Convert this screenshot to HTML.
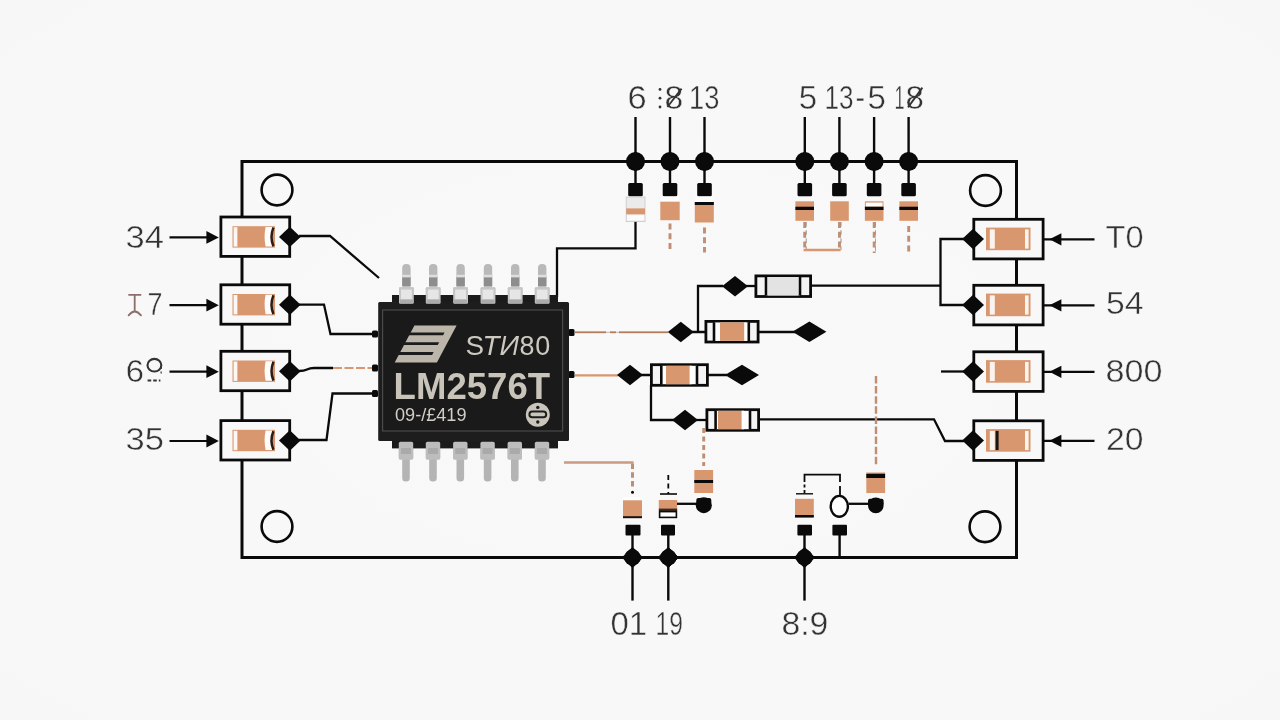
<!DOCTYPE html>
<html><head><meta charset="utf-8"><title>LM2576T circuit</title>
<style>
html,body{margin:0;padding:0;background:#f8f8f8;}
body{width:1280px;height:720px;overflow:hidden;font-family:"Liberation Sans",sans-serif;}
svg{display:block;will-change:transform;transform:translateZ(0)}
text{font-family:"Liberation Sans",sans-serif;}
.lb{stroke:#f8f8f8;stroke-width:.45px;}
</style></head><body>
<svg width="1280" height="720" viewBox="0 0 1280 720">
<defs><radialGradient id="bgg" cx="50%" cy="50%" r="75%"><stop offset="0" stop-color="#f9f9f9"/><stop offset="1" stop-color="#f7f7f7"/></radialGradient></defs>
<rect x="0" y="0" width="1280" height="720" fill="url(#bgg)"/>
<rect x="242" y="161.5" width="774.5" height="396" fill="none" stroke="#0a0a0a" stroke-width="3"/>
<circle cx="277" cy="190" r="15.4" fill="#f8f8f8" stroke="#0a0a0a" stroke-width="2.6"/>
<circle cx="985.5" cy="190.5" r="15.4" fill="#f8f8f8" stroke="#0a0a0a" stroke-width="2.6"/>
<circle cx="277" cy="526.5" r="15.4" fill="#f8f8f8" stroke="#0a0a0a" stroke-width="2.6"/>
<circle cx="985" cy="526.75" r="15.4" fill="#f8f8f8" stroke="#0a0a0a" stroke-width="2.6"/>
<rect x="220.9" y="217.0" width="68.8" height="39.4" fill="#f8f8f8" stroke="#0a0a0a" stroke-width="2.8"/>
<rect x="232.5" y="226.2" width="42.5" height="21.4" fill="#d9976f"/>
<rect x="233.6" y="227.2" width="3.8" height="19.4" fill="#fdf6f2"/>
<path d="M265.6 227.0 H272 V246.4 H265.6 Q263.6 236.6 265.6 227.0 Z" fill="#fffdfb"/>
<path d="M273.4 227.6 Q269.6 236.9 273.4 246.2" fill="none" stroke="#2a1c16" stroke-width="2.5"/>
<path d="M279 236.9 L289.8 226.7 L300.6 236.9 L289.8 247.1 Z" fill="#0a0a0a"/>
<path d="M169.5 237.4 H208" stroke="#0a0a0a" stroke-width="2.2" fill="none"/>
<path d="M206.4 231.0 L218.8 237.4 L206.4 243.79999999999998 Z" fill="#0a0a0a"/>
<rect x="220.9" y="284.79999999999995" width="68.8" height="39.4" fill="#f8f8f8" stroke="#0a0a0a" stroke-width="2.8"/>
<rect x="232.5" y="294.0" width="42.5" height="21.4" fill="#d9976f"/>
<rect x="233.6" y="295.0" width="3.8" height="19.4" fill="#fdf6f2"/>
<path d="M265.6 294.79999999999995 H272 V314.2 H265.6 Q263.6 304.4 265.6 294.79999999999995 Z" fill="#fffdfb"/>
<path d="M273.4 295.4 Q269.6 304.7 273.4 314.0" fill="none" stroke="#2a1c16" stroke-width="2.5"/>
<path d="M279 304.7 L289.8 294.5 L300.6 304.7 L289.8 314.9 Z" fill="#0a0a0a"/>
<path d="M169.5 305.2 H208" stroke="#0a0a0a" stroke-width="2.2" fill="none"/>
<path d="M206.4 298.79999999999995 L218.8 305.2 L206.4 311.59999999999997 Z" fill="#0a0a0a"/>
<rect x="220.9" y="351.29999999999995" width="68.8" height="39.4" fill="#f8f8f8" stroke="#0a0a0a" stroke-width="2.8"/>
<rect x="232.5" y="360.5" width="42.5" height="21.4" fill="#d9976f"/>
<rect x="233.6" y="361.5" width="3.8" height="19.4" fill="#fdf6f2"/>
<path d="M265.6 361.29999999999995 H272 V380.7 H265.6 Q263.6 370.9 265.6 361.29999999999995 Z" fill="#fffdfb"/>
<path d="M273.4 361.9 Q269.6 371.2 273.4 380.5" fill="none" stroke="#2a1c16" stroke-width="2.5"/>
<path d="M279 371.2 L289.8 361.0 L300.6 371.2 L289.8 381.4 Z" fill="#0a0a0a"/>
<path d="M169.5 371.7 H208" stroke="#0a0a0a" stroke-width="2.2" fill="none"/>
<path d="M206.4 365.29999999999995 L218.8 371.7 L206.4 378.09999999999997 Z" fill="#0a0a0a"/>
<rect x="220.9" y="420.59999999999997" width="68.8" height="39.4" fill="#f8f8f8" stroke="#0a0a0a" stroke-width="2.8"/>
<rect x="232.5" y="429.8" width="42.5" height="21.4" fill="#d9976f"/>
<rect x="233.6" y="430.8" width="3.8" height="19.4" fill="#fdf6f2"/>
<path d="M265.6 430.59999999999997 H272 V450.0 H265.6 Q263.6 440.2 265.6 430.59999999999997 Z" fill="#fffdfb"/>
<path d="M273.4 431.2 Q269.6 440.5 273.4 449.8" fill="none" stroke="#2a1c16" stroke-width="2.5"/>
<path d="M279 440.5 L289.8 430.3 L300.6 440.5 L289.8 450.7 Z" fill="#0a0a0a"/>
<path d="M169.5 441.0 H208" stroke="#0a0a0a" stroke-width="2.2" fill="none"/>
<path d="M206.4 434.59999999999997 L218.8 441.0 L206.4 447.4 Z" fill="#0a0a0a"/>
<rect x="973.8" y="219.3" width="69.3" height="39.6" fill="#f8f8f8" stroke="#0a0a0a" stroke-width="2.8"/>
<rect x="986" y="227.6" width="44.5" height="22.6" fill="#d9976f"/>
<rect x="989.8" y="229.4" width="5" height="19.2" fill="#fbf3ee"/>
<rect x="1025" y="229.4" width="3.6" height="19.2" fill="#fbf3ee"/>
<path d="M962.2 239 L973.1 228.7 L984 239 L973.1 249.3 Z" fill="#0a0a0a"/>
<path d="M1044 239.3 H1052 M1060 239.3 H1094.5" stroke="#0a0a0a" stroke-width="2.2" fill="none"/>
<path d="M1061.4 233.2 L1049.4 239.3 L1061.4 245.4 Z" fill="#0a0a0a"/>
<rect x="973.8" y="285.3" width="69.3" height="39.6" fill="#f8f8f8" stroke="#0a0a0a" stroke-width="2.8"/>
<rect x="986" y="293.6" width="44.5" height="22.6" fill="#d9976f"/>
<rect x="989.8" y="295.4" width="5" height="19.2" fill="#fbf3ee"/>
<rect x="1025" y="295.4" width="3.6" height="19.2" fill="#fbf3ee"/>
<path d="M962.2 305 L973.1 294.7 L984 305 L973.1 315.3 Z" fill="#0a0a0a"/>
<path d="M1044 305.3 H1052 M1060 305.3 H1094.5" stroke="#0a0a0a" stroke-width="2.2" fill="none"/>
<path d="M1061.4 299.2 L1049.4 305.3 L1061.4 311.4 Z" fill="#0a0a0a"/>
<rect x="973.8" y="351.8" width="69.3" height="39.6" fill="#f8f8f8" stroke="#0a0a0a" stroke-width="2.8"/>
<rect x="986" y="360.1" width="44.5" height="22.6" fill="#d9976f"/>
<rect x="989.8" y="361.9" width="5" height="19.2" fill="#fbf3ee"/>
<rect x="1025" y="361.9" width="3.6" height="19.2" fill="#fbf3ee"/>
<path d="M962.2 371.5 L973.1 361.2 L984 371.5 L973.1 381.8 Z" fill="#0a0a0a"/>
<path d="M1044 371.8 H1052 M1060 371.8 H1094.5" stroke="#0a0a0a" stroke-width="2.2" fill="none"/>
<path d="M1061.4 365.7 L1049.4 371.8 L1061.4 377.9 Z" fill="#0a0a0a"/>
<rect x="973.8" y="420.8" width="69.3" height="39.6" fill="#f8f8f8" stroke="#0a0a0a" stroke-width="2.8"/>
<rect x="986" y="429.1" width="44.5" height="22.6" fill="#d9976f"/>
<rect x="989.8" y="430.9" width="5" height="19.2" fill="#fbf3ee"/>
<rect x="1025" y="430.9" width="3.6" height="19.2" fill="#fbf3ee"/>
<rect x="995.6" y="430.9" width="3" height="19.2" fill="#1a1410"/>
<path d="M962.2 440.5 L973.1 430.2 L984 440.5 L973.1 450.8 Z" fill="#0a0a0a"/>
<path d="M1044 440.8 H1052 M1060 440.8 H1094.5" stroke="#0a0a0a" stroke-width="2.2" fill="none"/>
<path d="M1061.4 434.7 L1049.4 440.8 L1061.4 446.9 Z" fill="#0a0a0a"/>
<path d="M299 236 H330 L379 278" fill="none" stroke="#0a0a0a" stroke-width="2.3" stroke-linejoin="miter"/>
<path d="M299 304.6 H324 L330.5 334 H376" fill="none" stroke="#0a0a0a" stroke-width="2.3" stroke-linejoin="miter"/>
<path d="M299 371 Q304 371 307 369.5 Q310 368 314 368 H333" fill="none" stroke="#0a0a0a" stroke-width="2.3" stroke-linejoin="miter"/>
<path d="M333 368 H372" fill="none" stroke="#d9976f" stroke-width="2" stroke-dasharray="9 2.5"/>
<path d="M299 440 H326.5 L332.5 393.5 H376" fill="none" stroke="#0a0a0a" stroke-width="2.3" stroke-linejoin="miter"/>
<path d="M635.5 221 V248.3 H557 V297" fill="none" stroke="#0a0a0a" stroke-width="2.3" stroke-linejoin="miter"/>
<path d="M811 285.6 H940.5 M964 239 H940.5 V305 H964" fill="none" stroke="#0a0a0a" stroke-width="2.3" stroke-linejoin="miter"/>
<path d="M941 371.5 H964" fill="none" stroke="#0a0a0a" stroke-width="2.3" stroke-linejoin="miter"/>
<path d="M759 419.3 H934 L945 441 H964" fill="none" stroke="#0a0a0a" stroke-width="2.3" stroke-linejoin="miter"/>
<rect x="372.0" y="330.5" width="6" height="7" rx="1.5" fill="#0a0a0a"/>
<rect x="372.0" y="364.5" width="6" height="7" rx="1.5" fill="#0a0a0a"/>
<rect x="372.0" y="390.0" width="6" height="7" rx="1.5" fill="#0a0a0a"/>
<rect x="568.5" y="329.0" width="6" height="7" rx="1.5" fill="#0a0a0a"/>
<rect x="568.5" y="371.0" width="6" height="7" rx="1.5" fill="#0a0a0a"/>
<path d="M575 332.3 H606 M610 332.3 H616 M619 332.3 H668" fill="none" stroke="#d9976f" stroke-width="2"/>
<path d="M575 332.3 H668" fill="none" stroke="#5a4030" stroke-width="0.7" opacity=".5"/>
<path d="M575 375.3 H618" fill="none" stroke="#d9976f" stroke-width="2.2"/>
<path d="M564 462.5 H633.6" fill="none" stroke="#c99a80" stroke-width="2.6"/>
<path d="M723 286 H698 V332" fill="none" stroke="#0a0a0a" stroke-width="2.3" stroke-linejoin="miter"/>
<path d="M722 286.2 L735 275.9 L748 286.2 L735 296.5 Z" fill="#0a0a0a"/>
<path d="M746 286 H756" fill="none" stroke="#0a0a0a" stroke-width="2.3" stroke-linejoin="miter"/>
<rect x="755.9" y="275.9" width="54.7" height="20.6" fill="#f4f4f4" stroke="#0a0a0a" stroke-width="2.8"/>
<rect x="766" y="277.0" width="34" height="18.4" fill="#fdfdfd"/>
<rect x="768" y="277.0" width="30" height="18.4" fill="#e3e3e3"/>
<path d="M766 276.8 V295.59999999999997 M800 276.8 V295.59999999999997" stroke="#0a0a0a" stroke-width="2.6" fill="none"/>
<path d="M692 332 H706 M759 332 H795" fill="none" stroke="#0a0a0a" stroke-width="2.3" stroke-linejoin="miter"/>
<path d="M667.8 332 L680.8 321.7 L693.8 332 L680.8 342.3 Z" fill="#0a0a0a"/>
<rect x="705.9" y="321.4" width="52.2" height="20.6" fill="#f4f4f4" stroke="#0a0a0a" stroke-width="2.8"/>
<rect x="714" y="322.5" width="34.799999999999955" height="18.4" fill="#fdfdfd"/>
<rect x="720" y="322.5" width="26" height="18.4" fill="#d9976f"/>
<path d="M714 322.3 V341.09999999999997 M748.8 322.3 V341.09999999999997" stroke="#0a0a0a" stroke-width="2.6" fill="none"/>
<rect x="744.2" y="322.5" width="2.4" height="18.4" fill="#fff"/>
<path d="M792.4 331.8 L809.4 321.5 L826.4 331.8 L809.4 342.1 Z" fill="#0a0a0a"/>
<path d="M641 375 H652 M708 375 H727" fill="none" stroke="#0a0a0a" stroke-width="2.3" stroke-linejoin="miter"/>
<path d="M617 375 L630 364.7 L643 375 L630 385.3 Z" fill="#0a0a0a"/>
<rect x="651.4" y="364.7" width="55.99999999999996" height="20.6" fill="#f4f4f4" stroke="#0a0a0a" stroke-width="2.8"/>
<rect x="661.3" y="365.8" width="35.700000000000045" height="18.4" fill="#fdfdfd"/>
<rect x="666" y="365.8" width="25" height="18.4" fill="#d9976f"/>
<path d="M661.3 365.6 V384.4 M697 365.6 V384.4" stroke="#0a0a0a" stroke-width="2.6" fill="none"/>
<rect x="689.6" y="365.8" width="2.6" height="18.4" fill="#fff"/>
<path d="M725 375 L742 364.7 L759 375 L742 385.3 Z" fill="#0a0a0a"/>
<path d="M651 385 V420 H674" fill="none" stroke="#0a0a0a" stroke-width="2.3" stroke-linejoin="miter"/>
<path d="M696 420 H707" fill="none" stroke="#0a0a0a" stroke-width="2.3" stroke-linejoin="miter"/>
<path d="M672 420 L685 409.7 L698 420 L685 430.3 Z" fill="#0a0a0a"/>
<rect x="706.9" y="409.7" width="51.7" height="20.6" fill="#f4f4f4" stroke="#0a0a0a" stroke-width="2.8"/>
<rect x="715.6" y="410.8" width="34.39999999999998" height="18.4" fill="#fdfdfd"/>
<rect x="718" y="410.8" width="25.799999999999955" height="18.4" fill="#d9976f"/>
<path d="M715.6 410.6 V429.4 M750 410.6 V429.4" stroke="#0a0a0a" stroke-width="2.6" fill="none"/>
<rect x="741.6" y="410.8" width="2.6" height="18.4" fill="#fff"/>
<path d="M635.5 117 V184" stroke="#0a0a0a" stroke-width="2.4" fill="none"/>
<circle cx="635.5" cy="161.5" r="9.5" fill="#0a0a0a"/>
<path d="M625.3 161.5 L635.5 151.3 L645.7 161.5 L635.5 171.7 Z" fill="#0a0a0a"/>
<rect x="628.2" y="183" width="14.6" height="13.2" rx="1.5" fill="#0a0a0a"/>
<path d="M670 117 V184" stroke="#0a0a0a" stroke-width="2.4" fill="none"/>
<circle cx="670" cy="161.5" r="9.5" fill="#0a0a0a"/>
<path d="M659.8 161.5 L670 151.3 L680.2 161.5 L670 171.7 Z" fill="#0a0a0a"/>
<rect x="662.7" y="183" width="14.6" height="13.2" rx="1.5" fill="#0a0a0a"/>
<path d="M704.5 117 V184" stroke="#0a0a0a" stroke-width="2.4" fill="none"/>
<circle cx="704.5" cy="161.5" r="9.5" fill="#0a0a0a"/>
<path d="M694.3 161.5 L704.5 151.3 L714.7 161.5 L704.5 171.7 Z" fill="#0a0a0a"/>
<rect x="697.2" y="183" width="14.6" height="13.2" rx="1.5" fill="#0a0a0a"/>
<path d="M804.8 117 V184" stroke="#0a0a0a" stroke-width="2.4" fill="none"/>
<circle cx="804.8" cy="161.5" r="9.5" fill="#0a0a0a"/>
<path d="M794.5999999999999 161.5 L804.8 151.3 L815.0 161.5 L804.8 171.7 Z" fill="#0a0a0a"/>
<rect x="797.5" y="183" width="14.6" height="13.2" rx="1.5" fill="#0a0a0a"/>
<path d="M839.4 117 V184" stroke="#0a0a0a" stroke-width="2.4" fill="none"/>
<circle cx="839.4" cy="161.5" r="9.5" fill="#0a0a0a"/>
<path d="M829.1999999999999 161.5 L839.4 151.3 L849.6 161.5 L839.4 171.7 Z" fill="#0a0a0a"/>
<rect x="832.1" y="183" width="14.6" height="13.2" rx="1.5" fill="#0a0a0a"/>
<path d="M874.1 117 V184" stroke="#0a0a0a" stroke-width="2.4" fill="none"/>
<circle cx="874.1" cy="161.5" r="9.5" fill="#0a0a0a"/>
<path d="M863.9 161.5 L874.1 151.3 L884.3000000000001 161.5 L874.1 171.7 Z" fill="#0a0a0a"/>
<rect x="866.8000000000001" y="183" width="14.6" height="13.2" rx="1.5" fill="#0a0a0a"/>
<path d="M908.6 117 V184" stroke="#0a0a0a" stroke-width="2.4" fill="none"/>
<circle cx="908.6" cy="161.5" r="9.5" fill="#0a0a0a"/>
<path d="M898.4 161.5 L908.6 151.3 L918.8000000000001 161.5 L908.6 171.7 Z" fill="#0a0a0a"/>
<rect x="901.3000000000001" y="183" width="14.6" height="13.2" rx="1.5" fill="#0a0a0a"/>
<rect x="626.2" y="197" width="18.8" height="24.6" fill="#ebebeb" stroke="#c9c9c9" stroke-width="0.8"/>
<rect x="626.2" y="208.4" width="18.8" height="5.900000000000006" fill="#d9976f"/>
<rect x="627" y="215.2" width="17.2" height="5.2" fill="#fcfcfc"/>
<rect x="661" y="196.6" width="18" height="5" fill="#fdfdfd"/>
<rect x="660.3" y="201.7" width="19.4" height="18.5" fill="#d9976f"/>
<path d="M670 223.5 V249" stroke="#bf8e73" stroke-width="2.9" stroke-dasharray="6 3.8" fill="none"/>
<rect x="695.5" y="196.6" width="18" height="5.4" fill="#fdfdfd"/>
<rect x="694.8" y="202" width="19.0" height="20.5" fill="#d9976f"/>
<rect x="694.8" y="202" width="19.0" height="3" fill="#0a0a0a"/>
<path d="M704.5 227.5 V252.5" stroke="#bf8e73" stroke-width="2.9" stroke-dasharray="6 3.8" fill="none"/>
<rect x="795.4000000000001" y="201.3" width="18.6" height="19.5" fill="#d9976f"/>
<rect x="795.4000000000001" y="206.7" width="18.6" height="3.3000000000000114" fill="#0a0a0a"/>
<path d="M804.7 222 V250" stroke="#bf8e73" stroke-width="2.9" stroke-dasharray="6 3.8" fill="none"/>
<path d="M806.2 222 V250" stroke="#9a8f88" stroke-width="1" stroke-dasharray="4.6 3.6" fill="none"/>
<rect x="830.2" y="201.3" width="18.6" height="19.5" fill="#d9976f"/>
<path d="M839.5 222 V250" stroke="#bf8e73" stroke-width="2.9" stroke-dasharray="6 3.8" fill="none"/>
<path d="M841 222 V250" stroke="#9a8f88" stroke-width="1" stroke-dasharray="4.6 3.6" fill="none"/>
<path d="M803.6 250 H840.6" stroke="#d9976f" stroke-width="2.4" fill="none"/>
<rect x="864.9000000000001" y="201.3" width="18.6" height="19.5" fill="#d9976f"/>
<rect x="865.9000000000001" y="202.6" width="16.6" height="4.099999999999994" fill="#fdfdfd"/>
<rect x="864.9000000000001" y="206.7" width="18.6" height="3.3000000000000114" fill="#0a0a0a"/>
<path d="M874.2 222 V253" stroke="#bf8e73" stroke-width="2.9" stroke-dasharray="6 3.8" fill="none"/>
<path d="M875.5 222 V253" stroke="#9a8f88" stroke-width="0.8" stroke-dasharray="4.6 3.6" fill="none"/>
<rect x="899.4000000000001" y="201.3" width="18.6" height="19.5" fill="#d9976f"/>
<rect x="899.4000000000001" y="206.7" width="18.6" height="3.3000000000000114" fill="#0a0a0a"/>
<path d="M908.7 226 V253" stroke="#bf8e73" stroke-width="2.9" stroke-dasharray="6 3.8" fill="none"/>
<path d="M632.5 534 V600.6" stroke="#0a0a0a" stroke-width="2.4" fill="none"/>
<circle cx="632.5" cy="557.5" r="8.256" fill="#0a0a0a"/>
<path d="M622.324 557.5 L632.5 547.324 L642.676 557.5 L632.5 567.676 Z" fill="#0a0a0a" stroke="#0a0a0a" stroke-width="1" stroke-linejoin="round"/>
<path d="M668.3 534 V600.6" stroke="#0a0a0a" stroke-width="2.4" fill="none"/>
<circle cx="668.3" cy="557.5" r="8.256" fill="#0a0a0a"/>
<path d="M658.1239999999999 557.5 L668.3 547.324 L678.476 557.5 L668.3 567.676 Z" fill="#0a0a0a" stroke="#0a0a0a" stroke-width="1" stroke-linejoin="round"/>
<path d="M804.5 534 V600.6" stroke="#0a0a0a" stroke-width="2.4" fill="none"/>
<circle cx="804.5" cy="557.5" r="8.256" fill="#0a0a0a"/>
<path d="M794.324 557.5 L804.5 547.324 L814.676 557.5 L804.5 567.676 Z" fill="#0a0a0a" stroke="#0a0a0a" stroke-width="1" stroke-linejoin="round"/>
<path d="M839.6 534 V557.5" stroke="#0a0a0a" stroke-width="2.4" fill="none"/>
<rect x="625.5" y="524.8" width="15" height="10.6" rx="1" fill="#0a0a0a"/>
<rect x="661.0" y="524.8" width="14" height="10.6" rx="1" fill="#0a0a0a"/>
<rect x="797.4000000000001" y="524.8" width="14.6" height="10.6" rx="1" fill="#0a0a0a"/>
<rect x="832.4000000000001" y="524.8" width="14.6" height="10.6" rx="1" fill="#0a0a0a"/>
<rect x="623.6" y="497" width="18" height="3" fill="#fdfdfd"/>
<rect x="623.0" y="500.3" width="19.0" height="16.499999999999943" fill="#d9976f"/>
<rect x="623.0" y="516.2" width="19.0" height="2.0" fill="#1a100c"/>
<path d="M632.5 463.5 V488" stroke="#bf8e73" stroke-width="3" stroke-dasharray="5.4 3.4" fill="none"/>
<circle cx="632.5" cy="492.3" r="1.5" fill="#0a0a0a"/>
<path d="M668.3 475 V494" stroke="#0a0a0a" stroke-width="1.8" stroke-dasharray="5 3.5" fill="none"/>
<path d="M660 494 H677" stroke="#0a0a0a" stroke-width="1.6" fill="none"/>
<rect x="658.8" y="500" width="18.4" height="9" fill="#d9976f"/>
<rect x="658.8" y="508.6" width="18.4" height="2.3999999999999773" fill="#3a2a20"/>
<rect x="659.6" y="511.6" width="16.8" height="5.8" fill="#fff" stroke="#0a0a0a" stroke-width="1.6"/>
<path d="M677 503.8 H697" fill="none" stroke="#0a0a0a" stroke-width="2.3" stroke-linejoin="miter"/>
<circle cx="703.8" cy="505.2" r="8" fill="#0a0a0a"/>
<rect x="696.3" y="498" width="15" height="6" rx="2" fill="#0a0a0a"/>
<rect x="694.3000000000001" y="470" width="18.8" height="23" fill="#d9976f"/>
<rect x="694.3000000000001" y="480" width="18.8" height="3" fill="#0a0a0a"/>
<path d="M703.7 428 V466" stroke="#bf8e73" stroke-width="2.9" stroke-dasharray="5 3.5" fill="none"/>
<rect x="795.0" y="498.8" width="18.8" height="18.69999999999999" fill="#d9976f"/>
<rect x="795.0" y="515" width="18.8" height="2.5" fill="#0a0a0a"/>
<path d="M796 493.8 H813" stroke="#0a0a0a" stroke-width="1.4" fill="none"/>
<path d="M804.5 493 V484" stroke="#0a0a0a" stroke-width="1.8" stroke-dasharray="3 2.5" fill="none"/>
<path d="M804.5 482 V474.6 H840 V482 M840 486 V496" stroke="#0a0a0a" stroke-width="1.8" fill="none"/>
<ellipse cx="839.3" cy="506.3" rx="8.6" ry="10.4" fill="#fdfdfd" stroke="#0a0a0a" stroke-width="2.4"/>
<path d="M848.6 503.8 H869" fill="none" stroke="#0a0a0a" stroke-width="2.3" stroke-linejoin="miter"/>
<circle cx="875.8" cy="505.4" r="7.8" fill="#0a0a0a"/>
<rect x="868" y="498.8" width="15.6" height="6.6" rx="2" fill="#0a0a0a"/>
<rect x="866.3000000000001" y="472.5" width="18.8" height="20.5" fill="#d9976f"/>
<rect x="866.3000000000001" y="473.8" width="18.8" height="4.199999999999989" fill="#0a0a0a"/>
<path d="M876 376 V466" stroke="#bf8e73" stroke-width="2.4" stroke-dasharray="7.5 2.6" fill="none"/>
<rect x="402.2" y="264" width="8.4" height="26" rx="4" fill="#b9b9b9"/>
<rect x="402.2" y="276.5" width="8.4" height="9.5" fill="#8d8d8d"/>
<rect x="402.2" y="274.8" width="8.4" height="2.6" fill="#dedede"/>
<rect x="399.0" y="287.3" width="14.8" height="16.6" rx="1.2" fill="#c4c4c4"/>
<rect x="401.4" y="291" width="10" height="9" fill="#dcdcdc"/>
<rect x="429.0" y="264" width="8.4" height="26" rx="4" fill="#b9b9b9"/>
<rect x="429.0" y="276.5" width="8.4" height="9.5" fill="#8d8d8d"/>
<rect x="429.0" y="274.8" width="8.4" height="2.6" fill="#dedede"/>
<rect x="425.8" y="287.3" width="14.8" height="16.6" rx="1.2" fill="#c4c4c4"/>
<rect x="428.2" y="291" width="10" height="9" fill="#dcdcdc"/>
<rect x="456.40000000000003" y="264" width="8.4" height="26" rx="4" fill="#b9b9b9"/>
<rect x="456.40000000000003" y="276.5" width="8.4" height="9.5" fill="#8d8d8d"/>
<rect x="456.40000000000003" y="274.8" width="8.4" height="2.6" fill="#dedede"/>
<rect x="453.20000000000005" y="287.3" width="14.8" height="16.6" rx="1.2" fill="#c4c4c4"/>
<rect x="455.6" y="291" width="10" height="9" fill="#dcdcdc"/>
<rect x="483.8" y="264" width="8.4" height="26" rx="4" fill="#b9b9b9"/>
<rect x="483.8" y="276.5" width="8.4" height="9.5" fill="#8d8d8d"/>
<rect x="483.8" y="274.8" width="8.4" height="2.6" fill="#dedede"/>
<rect x="480.6" y="287.3" width="14.8" height="16.6" rx="1.2" fill="#c4c4c4"/>
<rect x="483" y="291" width="10" height="9" fill="#dcdcdc"/>
<rect x="511.00000000000006" y="264" width="8.4" height="26" rx="4" fill="#b9b9b9"/>
<rect x="511.00000000000006" y="276.5" width="8.4" height="9.5" fill="#8d8d8d"/>
<rect x="511.00000000000006" y="274.8" width="8.4" height="2.6" fill="#dedede"/>
<rect x="507.80000000000007" y="287.3" width="14.8" height="16.6" rx="1.2" fill="#c4c4c4"/>
<rect x="510.20000000000005" y="291" width="10" height="9" fill="#dcdcdc"/>
<rect x="538.0" y="264" width="8.4" height="26" rx="4" fill="#b9b9b9"/>
<rect x="538.0" y="276.5" width="8.4" height="9.5" fill="#8d8d8d"/>
<rect x="538.0" y="274.8" width="8.4" height="2.6" fill="#dedede"/>
<rect x="534.8000000000001" y="287.3" width="14.8" height="16.6" rx="1.2" fill="#c4c4c4"/>
<rect x="537.2" y="291" width="10" height="9" fill="#dcdcdc"/>
<rect x="402.2" y="455" width="7.6" height="26.6" rx="3.6" fill="#b4b4b4"/>
<rect x="398.8" y="440" width="14.4" height="19.6" rx="1.6" fill="#bdbdbd"/>
<rect x="401" y="447" width="10" height="6" fill="#aaaaaa"/>
<rect x="429.2" y="455" width="7.6" height="26.6" rx="3.6" fill="#b4b4b4"/>
<rect x="425.8" y="440" width="14.4" height="19.6" rx="1.6" fill="#bdbdbd"/>
<rect x="428" y="447" width="10" height="6" fill="#aaaaaa"/>
<rect x="456.5" y="455" width="7.6" height="26.6" rx="3.6" fill="#b4b4b4"/>
<rect x="453.1" y="440" width="14.4" height="19.6" rx="1.6" fill="#bdbdbd"/>
<rect x="455.3" y="447" width="10" height="6" fill="#aaaaaa"/>
<rect x="483.8" y="455" width="7.6" height="26.6" rx="3.6" fill="#b4b4b4"/>
<rect x="480.40000000000003" y="440" width="14.4" height="19.6" rx="1.6" fill="#bdbdbd"/>
<rect x="482.6" y="447" width="10" height="6" fill="#aaaaaa"/>
<rect x="510.99999999999994" y="455" width="7.6" height="26.6" rx="3.6" fill="#b4b4b4"/>
<rect x="507.59999999999997" y="440" width="14.4" height="19.6" rx="1.6" fill="#bdbdbd"/>
<rect x="509.79999999999995" y="447" width="10" height="6" fill="#aaaaaa"/>
<rect x="538.2" y="455" width="7.6" height="26.6" rx="3.6" fill="#b4b4b4"/>
<rect x="534.8" y="440" width="14.4" height="19.6" rx="1.6" fill="#bdbdbd"/>
<rect x="537" y="447" width="10" height="6" fill="#aaaaaa"/>
<rect x="392" y="295" width="166" height="12" fill="#1b1b1b"/>
<rect x="392" y="436" width="166" height="12.4" fill="#1b1b1b"/>
<rect x="378.2" y="302" width="190.8" height="139" rx="1.5" fill="#1d1d1d"/>
<rect x="382.6" y="310" width="180" height="121" fill="#1a1a1a" stroke="#4a4a4a" stroke-width="1.2"/>
<rect x="399.0" y="287.3" width="14.8" height="16.4" rx="1.2" fill="#c6c6c6"/>
<rect x="401.0" y="289.6" width="10.8" height="9.6" fill="#e6e6e6"/>
<rect x="399.79999999999995" y="299.6" width="13.2" height="3.4" fill="#ababab"/>
<rect x="425.8" y="287.3" width="14.8" height="16.4" rx="1.2" fill="#c6c6c6"/>
<rect x="427.8" y="289.6" width="10.8" height="9.6" fill="#e6e6e6"/>
<rect x="426.59999999999997" y="299.6" width="13.2" height="3.4" fill="#ababab"/>
<rect x="453.20000000000005" y="287.3" width="14.8" height="16.4" rx="1.2" fill="#c6c6c6"/>
<rect x="455.20000000000005" y="289.6" width="10.8" height="9.6" fill="#e6e6e6"/>
<rect x="454.0" y="299.6" width="13.2" height="3.4" fill="#ababab"/>
<rect x="480.6" y="287.3" width="14.8" height="16.4" rx="1.2" fill="#c6c6c6"/>
<rect x="482.6" y="289.6" width="10.8" height="9.6" fill="#e6e6e6"/>
<rect x="481.4" y="299.6" width="13.2" height="3.4" fill="#ababab"/>
<rect x="507.80000000000007" y="287.3" width="14.8" height="16.4" rx="1.2" fill="#c6c6c6"/>
<rect x="509.80000000000007" y="289.6" width="10.8" height="9.6" fill="#e6e6e6"/>
<rect x="508.6" y="299.6" width="13.2" height="3.4" fill="#ababab"/>
<rect x="534.8000000000001" y="287.3" width="14.8" height="16.4" rx="1.2" fill="#c6c6c6"/>
<rect x="536.8000000000001" y="289.6" width="10.8" height="9.6" fill="#e6e6e6"/>
<rect x="535.6" y="299.6" width="13.2" height="3.4" fill="#ababab"/>
<rect x="398.8" y="441.8" width="14.4" height="17.8" rx="1.6" fill="#bdbdbd"/>
<rect x="401" y="448" width="10" height="6" fill="#aaaaaa"/>
<rect x="425.8" y="441.8" width="14.4" height="17.8" rx="1.6" fill="#bdbdbd"/>
<rect x="428" y="448" width="10" height="6" fill="#aaaaaa"/>
<rect x="453.1" y="441.8" width="14.4" height="17.8" rx="1.6" fill="#bdbdbd"/>
<rect x="455.3" y="448" width="10" height="6" fill="#aaaaaa"/>
<rect x="480.40000000000003" y="441.8" width="14.4" height="17.8" rx="1.6" fill="#bdbdbd"/>
<rect x="482.6" y="448" width="10" height="6" fill="#aaaaaa"/>
<rect x="507.59999999999997" y="441.8" width="14.4" height="17.8" rx="1.6" fill="#bdbdbd"/>
<rect x="509.79999999999995" y="448" width="10" height="6" fill="#aaaaaa"/>
<rect x="534.8" y="441.8" width="14.4" height="17.8" rx="1.6" fill="#bdbdbd"/>
<rect x="537" y="448" width="10" height="6" fill="#aaaaaa"/>
<path d="M414.4 325.6 H456.6 L436.9 362.5 H394.7 Z" fill="#bcb6aa"/>
<path d="M406.662 332.6 H444.6 L443.1 335.3 H404.662 Z" fill="#1c1c1c"/>
<path d="M401.4822 342.3 H439.2 L437.7 345.1 H399.4822 Z" fill="#1c1c1c"/>
<path d="M396.24899999999997 352.1 H433.6 L432.1 354.9 H394.24899999999997 Z" fill="#1c1c1c"/>
<text y="355" font-size="27.8" fill="#cdc9c0"><tspan x="465.4">S</tspan><tspan x="482.6" font-style="italic">T</tspan><tspan x="499.4" font-style="italic" textLength="19.5" lengthAdjust="spacingAndGlyphs">&#1048;</tspan><tspan x="519.4" textLength="15" lengthAdjust="spacingAndGlyphs">8</tspan><tspan x="535.2" textLength="15" lengthAdjust="spacingAndGlyphs">0</tspan></text>
<text x="393.6" y="399.4" font-size="37" font-weight="700" fill="#c9c4ba" textLength="156.5" lengthAdjust="spacingAndGlyphs">LM2576T</text>
<text x="395" y="421.4" font-size="18.6" fill="#d2cec6" textLength="71.5" lengthAdjust="spacingAndGlyphs">09-/&#163;419</text>
<circle cx="537.8" cy="414.7" r="12" fill="#cbc6bc"/>
<rect x="529.4" y="411.6" width="16.8" height="5.6" rx="2.8" fill="#cbc6bc" stroke="#1d1d1d" stroke-width="2"/>
<circle cx="537.8" cy="407.4" r="1.7" fill="#1d1d1d"/><circle cx="537.8" cy="422" r="1.7" fill="#1d1d1d"/>
<text x="125.6" y="247.6" font-size="31.6" fill="#333333" textLength="38.400000000000006" lengthAdjust="spacingAndGlyphs" class="lb" >34</text>
<text x="147.5" y="315.2" font-size="31.6" fill="#333333" textLength="15.0" lengthAdjust="spacingAndGlyphs" class="lb" >7</text>
<path d="M129 294.8 H140.6 M134.7 294.8 V311 M128.6 315.4 Q134.7 307.6 141 315.4" fill="none" stroke="#8c6f6b" stroke-width="1.8" stroke-linecap="round"/>
<text x="125.8" y="382" font-size="31.6" fill="#333333" textLength="18.200000000000003" lengthAdjust="spacingAndGlyphs" class="lb" >6</text>
<ellipse cx="154.4" cy="365.2" rx="6.9" ry="6.3" fill="none" stroke="#333333" stroke-width="2.1"/>
<path d="M161.2 367 V374" stroke="#333333" stroke-width="1.6" stroke-dasharray="2 2.4" fill="none" opacity=".75"/>
<path d="M147.6 380.6 H160.4" stroke="#333333" stroke-width="2" stroke-dasharray="3.6 2" fill="none"/>
<text x="125.6" y="450" font-size="31.6" fill="#333333" textLength="38.400000000000006" lengthAdjust="spacingAndGlyphs" class="lb" >35</text>
<text x="1105.5" y="248.2" font-size="31.6" fill="#333333" textLength="38.0" lengthAdjust="spacingAndGlyphs" class="lb" >T0</text>
<text x="1106" y="314.2" font-size="31.6" fill="#333333" textLength="37.5" lengthAdjust="spacingAndGlyphs" class="lb" >54</text>
<text x="1105.5" y="382" font-size="31.6" fill="#333333" textLength="57.0" lengthAdjust="spacingAndGlyphs" class="lb" >800</text>
<text x="1106" y="449.8" font-size="31.6" fill="#333333" textLength="37.5" lengthAdjust="spacingAndGlyphs" class="lb" >20</text>
<text x="627.4" y="108.6" font-size="33.6" fill="#333333" textLength="19.200000000000045" lengthAdjust="spacingAndGlyphs" class="lb" >6</text>
<text x="664.6" y="108.6" font-size="33.6" fill="#333333" textLength="18.799999999999955" lengthAdjust="spacingAndGlyphs" class="lb" >8</text>
<path d="M667.4 107 L681.6 88.6" stroke="#333333" stroke-width="1.8" fill="none"/>
<circle cx="660" cy="89.4" r="1.4" fill="#333333"/>
<circle cx="660" cy="98.2" r="1.4" fill="#333333"/>
<circle cx="660" cy="107" r="1.4" fill="#333333"/>
<text x="689" y="108.6" font-size="33.6" fill="#333333" textLength="30.399999999999977" lengthAdjust="spacingAndGlyphs" class="lb" >13</text>
<text x="798.8" y="108.6" font-size="33.6" fill="#333333" textLength="18.40000000000009" lengthAdjust="spacingAndGlyphs" class="lb" >5</text>
<text x="824.6" y="108.6" font-size="33.6" fill="#333333" textLength="29.0" lengthAdjust="spacingAndGlyphs" class="lb" >13</text>
<text x="855.6" y="108.6" font-size="33.6" fill="#333333" textLength="9.600000000000023" lengthAdjust="spacingAndGlyphs" class="lb" >-</text>
<text x="867.6" y="108.6" font-size="33.6" fill="#333333" textLength="18.399999999999977" lengthAdjust="spacingAndGlyphs" class="lb" >5</text>
<text x="894.4" y="108.6" font-size="33.6" fill="#333333" textLength="10.0" lengthAdjust="spacingAndGlyphs" class="lb" >1</text>
<text x="905.6" y="108.6" font-size="33.6" fill="#333333" textLength="18.399999999999977" lengthAdjust="spacingAndGlyphs" class="lb" >8</text>
<path d="M908 107.4 L922.4 87.6" stroke="#333333" stroke-width="1.8" fill="none"/>
<text x="610.4" y="635.2" font-size="33.6" fill="#333333" textLength="36.60000000000002" lengthAdjust="spacingAndGlyphs" class="lb" >01</text>
<text x="655.6" y="635.2" font-size="33.6" fill="#333333" textLength="27.399999999999977" lengthAdjust="spacingAndGlyphs" class="lb" >19</text>
<text x="781.4" y="635.2" font-size="33.6" fill="#333333" textLength="47.0" lengthAdjust="spacingAndGlyphs" class="lb" >8:9</text>
</svg>
</body></html>
